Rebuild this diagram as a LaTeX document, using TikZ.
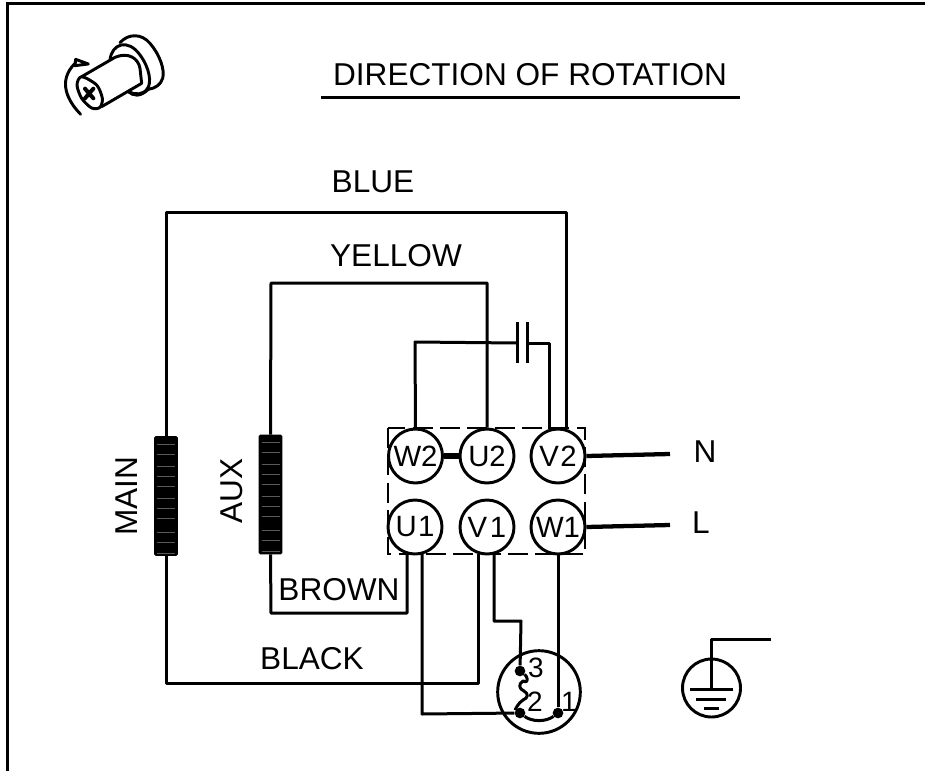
\documentclass[tikz,border=0pt]{standalone}
\usepackage{fontspec}
\setmainfont{Liberation Sans}
\tikzset{
  wire/.style={line width=2.25pt,line join=round},
  heavy/.style={line width=3.2pt},
  link/.style={line width=4.4pt},
  frameline/.style={line width=2.6pt},
  term/.style={circle,draw,line width=2.2pt,minimum size=40.5pt,inner sep=0pt,font=\fontsize{22}{22}\selectfont},
  lab/.style={inner sep=0pt,font=\fontsize{23.7}{25}\selectfont},
  coil/.style={draw=black,fill=black,rounded corners=1pt,line width=.8pt,minimum width=17pt,minimum height=89pt,inner sep=0pt},
  pin/.style={circle,fill=black,minimum size=8pt,inner sep=0pt},
  small/.style={inner sep=0pt,font=\fontsize{21}{21}\selectfont},
  icon/.style={line width=2.2pt,line join=round,line cap=round}
}
\begin{document}
\begin{tikzpicture}[x=0.75pt,y=-0.75pt]
\useasboundingbox (0,0) rectangle (925,771);
% frame
\draw[frameline] (7.5,771) -- (7.5,3.5) -- (925,3.5);
% title
\node[lab] (title) at (530,75) {DIRECTION OF ROTATION};
\draw[wire] (321,97) -- (740,97);
% icon
\begin{scope}[x=0.25pt,y=-0.25pt]
\draw[icon,smooth cycle] plot coordinates {(245,230) (231,255) (245,295) (275,324) (300,322) (307,295) (290,255)};
\draw[icon] (245,230) -- (345,172) .. controls (385,155) and (415,175) .. (420,205) -- (425,250) -- (305,320);
\draw[icon] (330,180) .. controls (335,130) and (385,115) .. (420,165) .. controls (450,205) and (455,250) .. (442,266) .. controls (430,285) and (405,285) .. (385,275);
\draw[icon] (360,128) .. controls (385,100) and (425,100) .. (450,130) .. controls (480,165) and (495,210) .. (488,235) .. controls (482,255) and (465,265) .. (445,268);
\draw[icon] (385,275) .. controls (400,288) and (420,292) .. (445,268);
\draw[icon] (242,343) .. controls (205,305) and (170,245) .. (225,190);
\draw[icon,fill=white] (227,178) -- (265,192) -- (225,197) -- cycle;
\draw[line width=3pt,line cap=round] (255,266) -- (280,295) (280,266) -- (255,295);
\end{scope}
% coils
\node[coil] (main) at (166,496) {};
\node[coil] (aux) at (270.5,494.5) {};
\foreach \cx/\cy in {166/496,270.5/494.5}{
  \foreach \d in {-52,-42,-30,-20,-10,2,12,22,36,46,57}{
    \draw[black!65,line width=.35pt] (\cx-9,\cy+\d) -- (\cx+9,\cy+\d);
  }
}
% terminals
\node[term] (W2) at (415.5,456) {W2};
\node[term] (U2) at (487,456) {U2};
\node[term] (V2) at (558,456) {V\kern1pt 2};
\node[term] (U1) at (415,527) {U\kern1pt 1};
\node[term] (V1) at (487,527) {V\kern2pt 1};
\node[term] (W1) at (558,527) {W1};
% dashed box
\draw[line width=2.2pt,dash pattern=on 15pt off 5.5pt] (388,428) rectangle (585,554);
% capacitor plates
\coordinate (capL) at (517,343);
\coordinate (capR) at (527,343);
\draw[wire] (517,322) -- (517,363);
\draw[wire] (527,322) -- (527,363);
% wires
\draw[wire] (main.north) -- (166,212) -- (566,212) -- (566,429);
\draw[wire] (aux.north) -- (271,283) -- (487,283) -- (U2.north);
\draw[wire] (W2.north) -- (415,342) -- (capL);
\draw[wire] (capR) -- (549,343) -- (549,429);
\draw[link] (W2.east) -- (U2.west);
\coordinate (Nend) at (670,454);
\coordinate (Lend) at (670,525);
\draw[heavy] (V2.east) -- (Nend);
\draw[heavy] (W1.east) -- (Lend);
\node[lab] (N) at (705,452) {N};
\node[lab] (L) at (701,523) {L};
% plug
\node[circle,draw,line width=2.2pt,minimum size=62pt,inner sep=0pt] (plug) at (539,692) {};
\node[pin] (p3) at (520,671) {};
\node[pin] (p2) at (520,713) {};
\node[pin] (p1) at (558,713) {};
\node[small] (t3) at (536,668) {3};
\node[small] (t2) at (535,702) {2};
\node[small] (t1) at (569,702) {1};
\draw[wire] (p3) .. controls +(7,5) and +(7,3) .. (523,681) .. controls +(-5,3) and +(-5,-2) .. (524,691) .. controls +(5,3) and +(5,-2) .. (523,700) .. controls +(-5,3) and +(-5,-3) .. (p2);
\draw[wire] (p2) .. controls (532,722) and (546,722) .. (p1);
% lower wires
\draw[wire] (aux.south) -- (271,613) -- (407,613) -- (407,554);
\draw[wire] (main.south) -- (166,683) -- (478,683) -- (478,554);
\draw[wire] (422,554) -- (422,714) -- (p2);
\draw[wire] (494,554) -- (494,621) -- (521,621) -- (p3);
\draw[wire] (W1.south) -- (p1);
% earth
\node[circle,draw,line width=2.2pt,minimum size=43.5pt,inner sep=0pt] (earth) at (711.5,688) {};
\coordinate (Eend) at (771,639);
\draw[wire] (Eend) -- (711.5,639) -- (711.5,689);
\draw[wire] (690,689) -- (733,689);
\draw[wire] (696,699) -- (726,699);
\draw[wire] (704,708) -- (719,708);
% labels
\node[lab] (blue) at (373,182) {BLUE};
\node[lab] (yellow) at (396,256) {YELLOW};
\node[lab] (brown) at (339,590) {BROWN};
\node[lab] (black) at (312,659) {BLACK};
\node[lab,rotate=90] (mlab) at (127,496) {MAIN};
\node[lab,rotate=90] (alab) at (232,491) {AUX};
\end{tikzpicture}
\end{document}
